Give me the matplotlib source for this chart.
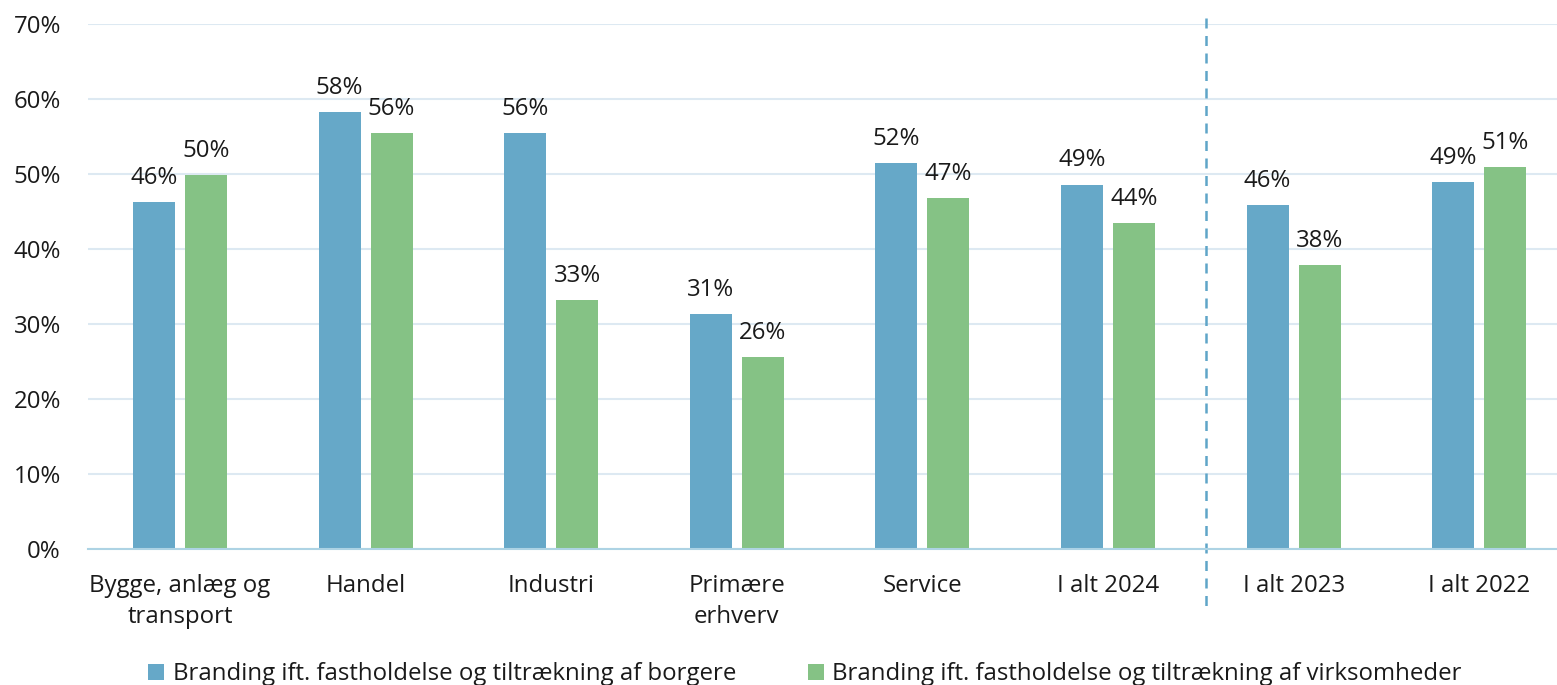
import matplotlib
matplotlib.use("Agg")
import matplotlib.pyplot as plt
import numpy as np

plt.rcParams['font.family'] = ['Open Sans', 'DejaVu Sans']

categories = ["Bygge, anlæg og\ntransport", "Handel", "Industri", "Primære\nerhverv",
              "Service", "I alt 2024", "I alt 2023", "I alt 2022"]
borgere = [46.3, 58.3, 55.5, 31.3, 51.5, 48.6, 45.9, 48.9]
virksomheder = [49.9, 55.5, 33.2, 25.6, 46.8, 43.5, 37.9, 50.9]
borgere_labels = ["46%", "58%", "56%", "31%", "52%", "49%", "46%", "49%"]
virksomheder_labels = ["50%", "56%", "33%", "26%", "47%", "44%", "38%", "51%"]
series_names = ["Branding ift. fastholdelse og tiltrækning af borgere",
                "Branding ift. fastholdelse og tiltrækning af virksomheder"]
yticks = [0, 10, 20, 30, 40, 50, 60, 70]

blue = "#66A8C8"
green = "#85C285"
FS = 17.3

W, H = 1557, 685
fig = plt.figure(figsize=(W / 100, H / 100), dpi=100)
ax_left, ax_right = 88 / W, 1557 / W
ax_bottom, ax_top = 1 - 549 / H, 1 - 24 / H
ax = fig.add_axes([ax_left, ax_bottom, ax_right - ax_left, ax_top - ax_bottom])

x = np.arange(len(categories))
spacing = 185.6
bw = 42 / spacing
off = 26 / spacing
b1 = ax.bar(x - off, borgere, bw, color=blue, label=series_names[0], zorder=3)
b2 = ax.bar(x + off, virksomheder, bw, color=green, label=series_names[1], zorder=3)

for rects, labs in ((b1, borgere_labels), (b2, virksomheder_labels)):
    for r, lab in zip(rects, labs):
        ax.annotate(lab, (r.get_x() + r.get_width() / 2, r.get_height()),
                    xytext=(0, 13), textcoords="offset points",
                    ha="center", va="baseline", fontsize=FS, color="#1a1a1a")

ax.set_xlim((88 - 180) / spacing, (1557 - 180) / spacing)
ax.set_ylim(0, 70)
ax.set_yticks(yticks)
ax.set_yticklabels([f"{v}%" for v in yticks])
ax.set_xticks(x)
ax.set_xticklabels(categories, linespacing=1.38)
ax.tick_params(axis="both", length=0, labelsize=FS, colors="#1a1a1a")
ax.tick_params(axis="y", pad=19.5)
ax.tick_params(axis="x", pad=18)

ax.grid(axis="y", color="#DDE9F2", linewidth=1.5, zorder=0)
for s in ["top", "right", "left"]:
    ax.spines[s].set_visible(False)
ax.spines["bottom"].set_color("#ADD3E4")
ax.spines["bottom"].set_linewidth(1.5)
ax.spines["bottom"].set_zorder(4)

xd = (1206 - 180) / spacing
ax.plot([xd, xd], [70.8, -7.7], color="#5FA5C8", linewidth=1.8,
        linestyle=(0, (4, 3)), clip_on=False, zorder=2)

fig.legend(handles=[b1, b2], labels=series_names, loc="center",
           bbox_to_anchor=(805 / W, 1 - 674 / H), ncol=2, frameon=False,
           fontsize=FS, handlelength=0.65, handleheight=0.65, handletextpad=0.35,
           columnspacing=3.0, labelcolor="#1a1a1a")

fig.savefig("out.png", dpi=100)
